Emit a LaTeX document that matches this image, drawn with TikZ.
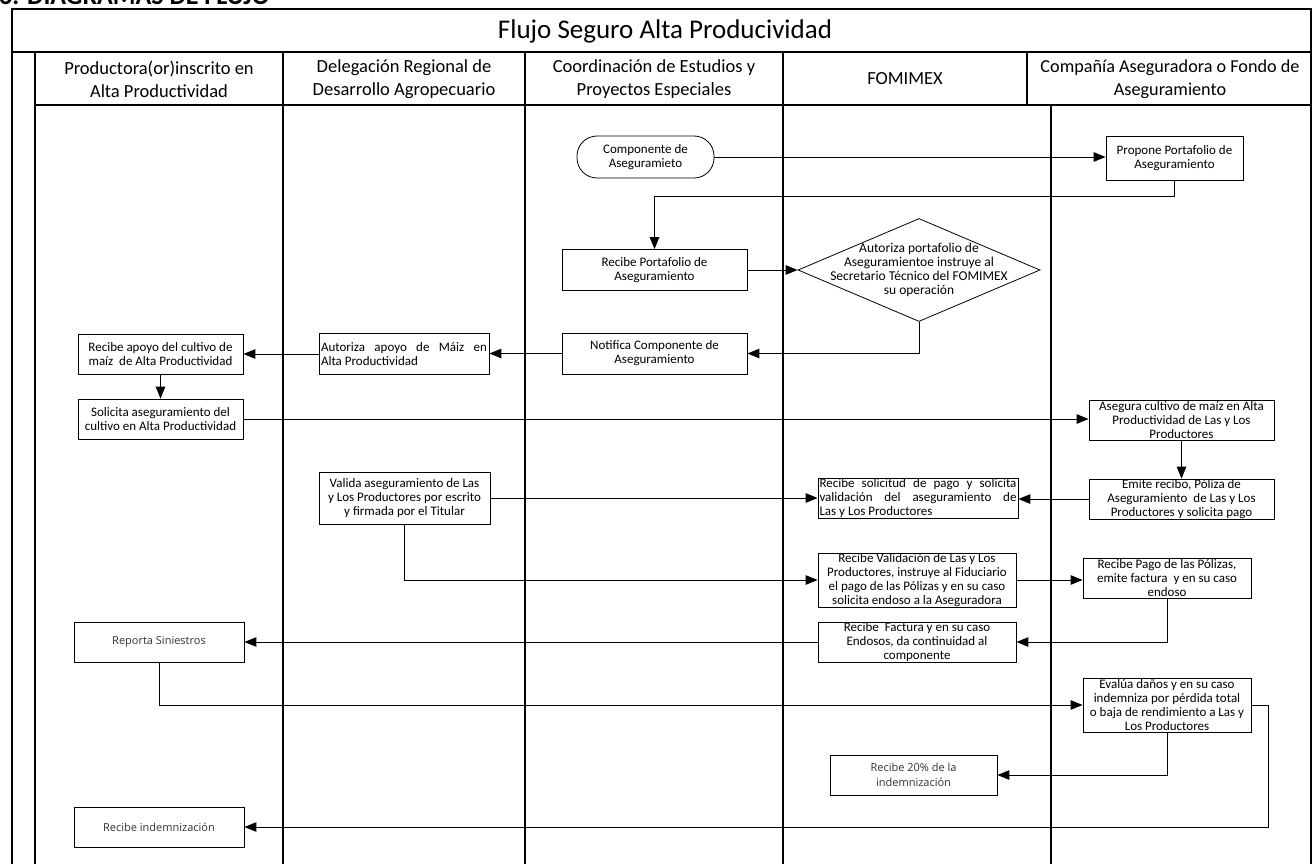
\documentclass[tikz,border=0pt]{standalone}
\usepackage{fontspec}
\setmainfont{Carlito}
\newfontfamily\segoe{Open Sans}
\usetikzlibrary{arrows.meta,shapes.geometric}
\begin{document}
\begin{tikzpicture}[x=1pt,y=-1pt,
  box/.style={draw, line width=0.8pt, fill=white, align=center, inner sep=0pt, font=\fontsize{13}{14}\selectfont},
  sbox/.style={box, font=\segoe\fontsize{11}{15}\selectfont, text=black!80},
  jbox/.style={box, align=justify},
  arr/.style={line width=1pt, -{Triangle[length=12pt,width=9.5pt]}},
  lane/.style={line width=1.2pt},
  hdr/.style={font=\fontsize{18.5}{23}\selectfont, align=center, inner sep=0pt}]
\useasboundingbox (0,0) rectangle (1313,863);
\clip (0,0) rectangle (1313,863);
% cut-off section heading
\node[anchor=base west, font=\bfseries\fontsize{26}{28}\selectfont, inner sep=0pt] (sec) at (-1,4.5) {6. DIAGRAMAS DE FLUJO};
% frame and lanes
\draw[lane] (12,880) -- (12,9) -- (1311,9) -- (1311,880);
\draw[lane] (12,52) -- (1311,52);
\draw[lane] (35,105) -- (1311,105);
\foreach \x in {35,283,525,783} \draw[lane] (\x,52) -- (\x,880);
\draw[lane] (1027,52) -- (1027,105);
\draw[lane] (1051,105) -- (1051,880);
% headers
\node[font=\fontsize{27}{30}\selectfont, inner sep=0pt] (title) at (665,31) {Flujo Seguro Alta Producividad};
\node[hdr] (h1) at (159,79) {Productora(or)inscrito en\\Alta Productividad};
\node[hdr] (h2) at (404,79) {Delegación Regional de\\Desarrollo Agropecuario};
\node[hdr] (h3) at (654,79) {Coordinación de Estudios y\\Proyectos Especiales};
\node[hdr] (h4) at (905,79) {FOMIMEX};
\node[hdr, font=\fontsize{18.2}{23}\selectfont] (h5) at (1170,79) {Compañía Aseguradora o Fondo de\\Aseguramiento};
% nodes
\node[box, rounded corners=20pt, minimum width=137, minimum height=42] (comp) at (645.5,157) {Componente de\\Aseguramieto};
\node[box, minimum width=137, minimum height=44] (prop) at (1174.5,158) {Propone Portafolio de\\Aseguramiento};
\node[box, minimum width=185, minimum height=41] (recport) at (654.5,270) {Recibe Portafolio de\\Aseguramiento};
\node[draw, diamond, line width=0.8pt, minimum width=242, minimum height=103, inner sep=0pt] (dia) at (919,270) {};
\node[align=center, inner sep=0pt, font=\fontsize{13.5}{14}\selectfont] (diat) at (dia.center) {Autoriza portafolio de\\Aseguramientoe instruye al\\Secretario Técnico del FOMIMEX\\su operación};
\node[box, minimum width=185, minimum height=41] (notif) at (654.5,353.5) {Notifica Componente de\\Aseguramiento};
\node[jbox, minimum width=170, minimum height=41, text width=166] (autap) at (404,354) {Autoriza apoyo de Máiz en\linebreak Alta Productividad};
\node[box, minimum width=165, minimum height=40] (recap) at (160.5,354) {Recibe apoyo del cultivo de\\maíz\ \ de Alta Productividad};
\node[box, minimum width=165, minimum height=40] (solic) at (160.5,419) {Solicita aseguramiento del\\cultivo en Alta Productividad};
\node[box, minimum width=185, minimum height=40] (aseg) at (1181.5,420) {Asegura cultivo de maíz en Alta\\Productividad de Las y Los\\Productores};
\node[box, minimum width=185, minimum height=40] (emite) at (1181.5,499) {Emite recibo, Póliza de\\Aseguramiento\ \ de Las y Los\\Productores y solicita pago};
\node[jbox, minimum width=200, minimum height=40, text width=197] (recsol) at (918,498.5) {Recibe solicitud de pago y solicita\linebreak validación del aseguramiento de\linebreak Las y Los Productores};
\node[box, minimum width=171, minimum height=52] (valida) at (404.5,498) {Valida aseguramiento de Las\\y Los Productores por escrito\\y firmada por el Titular};
\node[box, minimum width=198, minimum height=54] (recval) at (917,580) {Recibe Validación de Las y Los\\Productores, instruye al Fiduciario\\el pago de las Pólizas y en su caso\\solicita endoso a la Aseguradora};
\node[box, minimum width=168, minimum height=40] (recpago) at (1167,578) {Recibe Pago de las Pólizas,\\emite factura\ \ y en su caso\\endoso};
\node[box, minimum width=198, minimum height=40] (recfac) at (917,642) {Recibe\ \ Factura y en su caso\\Endosos, da continuidad al\\componente};
\node[sbox, minimum width=170, minimum height=40] (reporta) at (159,642) {Reporta Siniestros};
\node[box, minimum width=168, minimum height=54] (evalua) at (1167,705) {Evalúa daños y en su caso\\indemniza por pérdida total\\o baja de rendimiento a Las y\\Los Productores};
\node[sbox, minimum width=167, minimum height=40] (rec20) at (913.5,775) {Recibe 20\% de la\\indemnización};
\node[sbox, minimum width=170, minimum height=40] (recind) at (159,827) {Recibe indemnización};
% connectors
\draw[arr] (comp.east) -- (comp.east -| prop.west);
\draw[arr] (prop.south) -- ++(0,16) -| (recport.north);
\draw[arr] (recport.east) -- (dia.west);
\draw[arr] (dia.south) |- (notif.east);
\draw[arr] (notif.west) -- (notif.west -| autap.east);
\draw[arr] (autap.west) -- (autap.west -| recap.east);
\draw[arr] (recap.south) -- (solic.north);
\draw[arr] (solic.east) -- (solic.east -| aseg.west);
\draw[arr] (aseg.south) -- (emite.north);
\draw[arr] (emite.west) -- (emite.west -| recsol.east);
\draw[arr] (valida.east) -- (valida.east -| recsol.west);
\draw[arr] (valida.south) |- (recval.west);
\draw[arr] (recval.east) -- (recval.east -| recpago.west);
\draw[arr] (recpago.south) |- (recfac.east);
\draw[arr] (recfac.west) -- (recfac.west -| reporta.east);
\draw[arr] (reporta.south) |- (evalua.west);
\draw[arr] (evalua.south) |- (rec20.east);
\draw[arr] (evalua.east) -- ++(17,0) |- (recind.east);
\end{tikzpicture}
\end{document}
